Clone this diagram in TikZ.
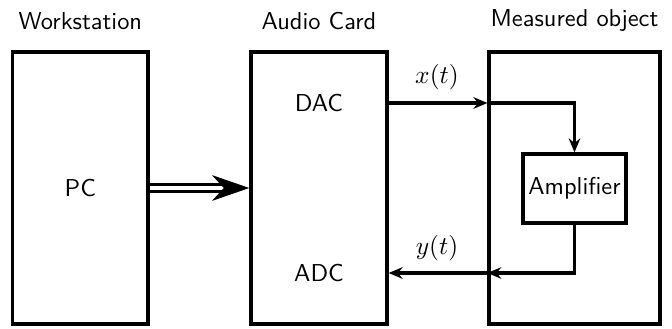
\documentclass[tikz,border=0pt]{standalone}
\usetikzlibrary{arrows.meta}
\begin{document}
\begin{tikzpicture}[x=0.43pt,y=-0.43pt,
  every node/.style={font=\sffamily\fontsize{10.5}{12.6}\selectfont},
  box/.style={draw,line width=1.4pt,inner sep=0pt},
  sig/.style={line width=1.4pt,-{Stealth[length=6pt,width=5pt,inset=2pt]}},
  bigarrow/.style={double,line width=1.3pt,double distance=1.8pt,
    -{Stealth[length=16pt,width=11pt,inset=5pt]}},
  lbl/.style={inner sep=0pt}]
\useasboundingbox (0,0) rectangle (672,329);
% boxes
\node[box,minimum width=58.3pt,minimum height=117pt] (ws) at (80.3,188) {};
\node[box,minimum width=58.5pt,minimum height=117pt] (ac) at (319,188) {};
\node[box,minimum width=73.5pt,minimum height=117pt] (mo) at (574.5,188) {};
\node[box,minimum width=44.3pt,minimum height=29.7pt] (amp) at (574.5,188.5) {Amplifier};
% titles
\node[lbl] (wsl) at (80.3,21) {Workstation};
\node[lbl] (acl) at (319,21) {Audio Card};
\node[lbl] (mol) at (574.5,21) {Measured object};
% inner texts
\node[lbl] (pc) at (80.3,188) {PC};
\node[lbl] (dac) at (319,103) {DAC};
\node[lbl] (adc) at (319,273) {ADC};
\node[lbl] (xl) at (437,77) {$x(t)$};
\node[lbl] (yl) at (437,248) {$y(t)$};
% connectors
\coordinate (xin) at (mo.west |- dac);
\coordinate (yin) at (mo.west |- adc);
\draw[bigarrow] (ws.east |- pc) -- (ac.west |- pc);
\draw[sig] (ac.east |- dac) -- (xin);
\draw[sig] (xin) -| (amp.north);
\draw[sig] (amp.south) |- (yin);
\draw[sig] (yin) -- (ac.east |- adc);
\end{tikzpicture}
\end{document}
